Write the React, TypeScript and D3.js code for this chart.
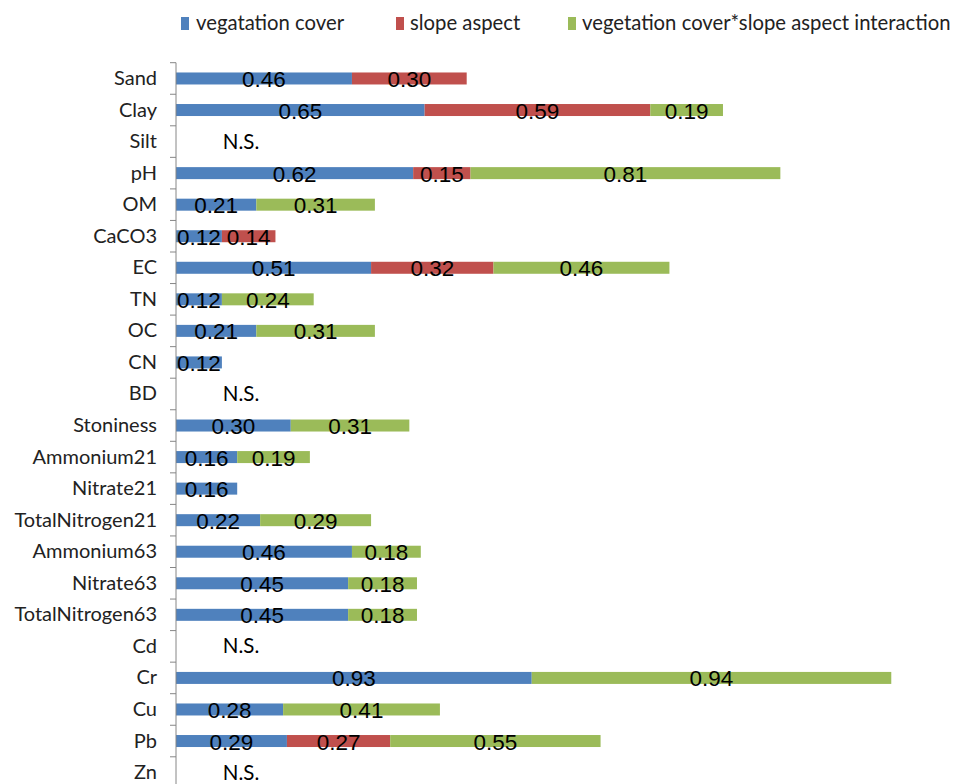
import React from "react";
import * as d3 from "d3";

const categories = ["Sand","Clay","Silt","pH","OM","CaCO3","EC","TN","OC","CN","BD","Stoniness","Ammonium21","Nitrate21","TotalNitrogen21","Ammonium63","Nitrate63","TotalNitrogen63","Cd","Cr","Cu","Pb","Zn"];
const vegetationCover = [0.46,0.65,0,0.62,0.21,0.12,0.51,0.12,0.21,0.12,0,0.30,0.16,0.16,0.22,0.46,0.45,0.45,0,0.93,0.28,0.29,0];
const slopeAspect =     [0.30,0.59,0,0.15,0,0.14,0.32,0,0,0,0,0,0,0,0,0,0,0,0,0,0,0.27,0];
const interaction =     [0,0.19,0,0.81,0.31,0,0.46,0.24,0.31,0,0,0.31,0.19,0,0.29,0.18,0.18,0.18,0,0.94,0.41,0.55,0];
const notSignificant = ["Silt","BD","Cd","Zn"];
const seriesNames = ["vegatation cover","slope aspect","vegetation cover*slope aspect interaction"];
const seriesKeys = ["veg","slope","inter"];
const colors = ["#4F81BD","#C0504D","#9BBB59"];

export default function App() {
  const W = 956, H = 784;
  const axisX = 176;
  const top = 62.7, band = 31.55;
  const x = d3.scaleLinear().domain([0, 2]).range([axisX, axisX + 765]);
  const rows = categories.map((c, i) => ({ cat: c, veg: vegetationCover[i], slope: slopeAspect[i], inter: interaction[i] }));
  const stacked = d3.stack<any>().keys(seriesKeys)(rows);
  const labelFont = "'Liberation Sans', Arial, sans-serif";
  const catFont = "Lato, 'Open Sans', sans-serif";
  const bandCenter = (c: string) => top + band * (categories.indexOf(c) + 0.5);
  const legendItems = [
    { sq: 181, tx: 196 },
    { sq: 396, tx: 410 },
    { sq: 568, tx: 582 },
  ];
  return (
    <svg width={W} height={H} style={{ position: "absolute", left: 0, top: 0, background: "#fff" }}>
      {seriesNames.map((n, i) => (
        <g key={n}>
          <rect x={legendItems[i].sq} y={17} width={8} height={13} fill={colors[i]} />
          <text x={legendItems[i].tx} y={30} fontFamily={catFont} fontSize={20.3} fill="#222">{n}</text>
        </g>
      ))}
      {stacked.map((s, si) => (
        <g key={s.key} fill={colors[si]}>
          {s.map((d: any, i: number) => {
            const v = d[1] - d[0];
            if (v <= 0) return null;
            const c = categories[i];
            const yc = bandCenter(c);
            const h = 12;
            return <rect key={c} x={x(d[0])} y={yc - h / 2} width={x(d[1]) - x(d[0])} height={h} />;
          })}
        </g>
      ))}
      {stacked.map((s) => (
        <g key={"l" + s.key}>
          {s.map((d: any, i: number) => {
            const v = d[1] - d[0];
            if (v <= 0) return null;
            const c = categories[i];
            return (
              <text key={c} x={(x(d[0]) + x(d[1])) / 2} y={bandCenter(c) + 8.5} textAnchor="middle" fontFamily={labelFont} fontSize={22.5} fill="#000">{v.toFixed(2)}</text>
            );
          })}
        </g>
      ))}
      {notSignificant.map((c) => (
        <text key={"ns" + c} x={241} y={bandCenter(c) + 7} textAnchor="middle" fontFamily={catFont} fontSize={20.5} fill="#000">N.S.</text>
      ))}
      <line x1={axisX} x2={axisX} y1={top} y2={H} stroke="#868686" strokeWidth={1} />
      {d3.range(categories.length + 1).map((i) => (
        <line key={"t" + i} x1={axisX - 6} x2={axisX} y1={top + band * i} y2={top + band * i} stroke="#868686" strokeWidth={1} />
      ))}
      {categories.map((c) => (
        <text key={"c" + c} x={157} y={bandCenter(c) + 6.5} textAnchor="end" fontFamily={catFont} fontSize={20} fill="#222">{c}</text>
      ))}
    </svg>
  );
}
